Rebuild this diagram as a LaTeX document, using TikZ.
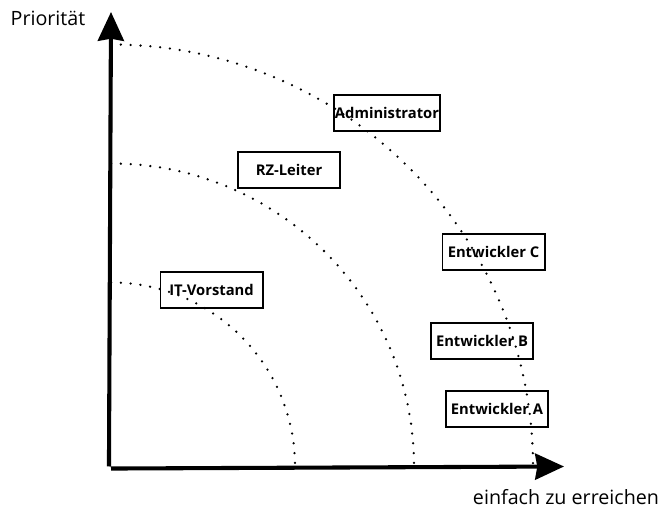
\documentclass[tikz,border=0pt]{standalone}
\usepackage{fontspec}
\setmainfont{Open Sans}
\usepackage{tikz}
\usetikzlibrary{positioning}
\usetikzlibrary{arrows.meta}

\tikzset{
  person/.style={draw, line width=1.4pt, minimum width=2.55cm, minimum height=0.9cm,
    inner sep=1pt, font=\fontsize{10.5}{12}\selectfont\bfseries},
  axis/.style={line width=2.9pt, -{Stealth[inset=1.5pt, length=20.5pt, width=18.5pt]}},
  level/.style={line width=1.8pt, dash pattern=on 0pt off 7pt, line cap=round},
  axislabel/.style={font=\fontsize{14}{16}\selectfont, inner sep=0pt},
}

\begin{document}
\begin{tikzpicture}[x=0.025cm, y=0.025cm]

      \useasboundingbox (0,0) rectangle (663,511);

      \def\radiusouter{422}
      \def\radiusmiddle{303}
      \def\radiusinner{184}

      \coordinate (origin) at (111, 44.5);
      \coordinate (ytip)   at (111, 499);
      \coordinate (xtip)   at (564, 44.5);

      \draw[level] (origin) ++(0,\radiusouter)  arc[start angle=90, end angle=0, radius=\radiusouter];
      \draw[level] (origin) ++(0,\radiusmiddle) arc[start angle=90, end angle=0, radius=\radiusmiddle];
      \draw[level] (origin) ++(0,\radiusinner)  arc[start angle=90, end angle=0, radius=\radiusinner];

      \draw[axis] ([xshift=-1.45pt]origin) -- (ytip);
      \draw[axis] ([yshift=-1.45pt]origin) -- (xtip);

      \node (prio)  at (48, 493) [axislabel] {Priorität};
      \node (easy)  at (566, 14) [axislabel] {einfach zu erreichen};

      \node (adm)   at (387, 398)   [person] {Administrator};
      \node (rz)    at (289, 341)   [person] {RZ-Leiter};
      \node (it)    at (211.5, 221) [person] {IT-Vorstand};
      \node (entC)  at (493.5, 259) [person] {Entwickler C};
      \node (entB)  at (482, 170)   [person] {Entwickler B};
      \node (entA)  at (497, 102)   [person] {Entwickler A};

    \end{tikzpicture}
\end{document}
